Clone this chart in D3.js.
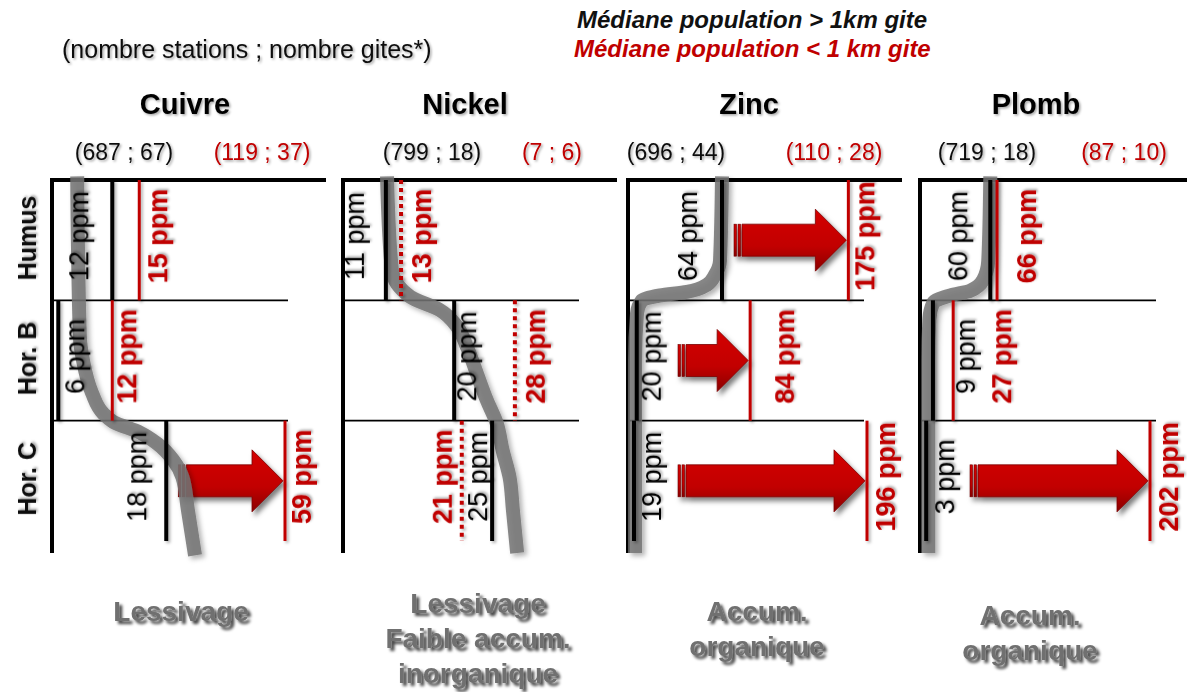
<!DOCTYPE html>
<html><head><meta charset="utf-8">
<script src="https://cdn.jsdelivr.net/npm/d3@7"></script>
<style>
body{margin:0;background:#fff}
svg{display:block;font-family:"Liberation Sans",Arial,Helvetica,sans-serif}
</style>
</head><body>
<svg id="chart" width="1187" height="692"></svg>
<script>
// ---------------- DATA ----------------
const metals = ["Cuivre", "Nickel", "Zinc", "Plomb"];
const horizons = ["Humus", "Hor. B", "Hor. C"];
const countsFar = ["(687 ; 67)", "(799 ; 18)", "(696 ; 44)", "(719 ; 18)"];
const countsNear = ["(119 ; 37)", "(7 ; 6)", "(110 ; 28)", "(87 ; 10)"];
// median ppm per horizon (Humus, Hor. B, Hor. C)
const medianFar  = [[12, 6, 18], [11, 20, 25], [64, 20, 19], [60, 9, 3]];   // population > 1 km gite
const medianNear = [[15, 12, 59], [13, 28, 21], [175, 84, 196], [66, 27, 202]]; // population < 1 km gite
const enrichArrow = [[false, false, true], [false, false, false], [true, true, true], [false, false, true]];
const nearDotted = [false, true, false, false];
const processLabels = [["Lessivage"], ["Lessivage", "Faible accum.", "inorganique"], ["Accum.", "organique"], ["Accum.", "organique"]];
const legendTexts = ["Médiane population > 1km gite", "Médiane population < 1 km gite"];
const countNote = "(nombre stations ; nombre gites*)";
// schematic profile curves: [depth in horizon units, ppm]
const trendCuivre = [[-0.03, 8.1], [1.3, 8.4], [1.5, 8.75], [1.77, 9.75], [1.94, 11.0], [2.01, 12.1], [2.1, 15.1], [2.19, 17.0], [2.33, 18.8], [2.47, 19.8], [2.74, 20.4], [3.12, 21.2]];
const trendNickel = [[-0.03, 11.15], [0.75, 11.8], [0.97, 14.2], [1.08, 18.1], [1.22, 20.4], [1.39, 21.7], [1.61, 23.0], [1.83, 24.3], [2.02, 25.6], [2.25, 26.4], [2.47, 27.3], [2.75, 27.75], [3.1, 28.3]];
const trendZinc = [[-0.03, 64], [0.67, 62.7], [0.79, 59.4], [0.87, 54.5], [0.93, 42.9], [0.96, 29.5], [1.0, 22.0], [1.11, 20.1], [1.5, 19.4], [3.1, 19.4]];
const trendPlomb = [[-0.03, 60], [0.67, 58.2], [0.83, 53.7], [0.92, 42.2], [0.96, 24.4], [1.02, 9.3], [1.16, 5.8], [1.5, 4.9], [3.1, 4.9]];
const trends = [trendCuivre, trendNickel, trendZinc, trendPlomb];

// ---------------- LAYOUT / SCALE CONFIG ----------------
const axisX = [52, 343, 628, 920];
const scaleCfg = [
  {type: "linear", domain: [5.3, 31.2], range: [0, 233]},
  {type: "linear", domain: [5.35, 36], range: [0, 232.6]},
  {type: "sqrt", domain: [19, 196], range: [6, 239]},
  {type: "linear", domain: [-2.5, 202], range: [0, 230]}
];
const farSide  = [["L", "R", "L"], ["L", "R", "L"], ["L", "R", "R"], ["L", "R", "R"]];
const nearSide = [["R", "R", "R"], ["R", "R", "L"], ["R", "R", "R"], ["R", "R", "R"]];
const farNudge  = [[-14, -4, -10], [-12, -8, 5], [-15, -6, -3], [-13, 12, -2]];
const nearNudge = [[-2, -6, -4], [0, 0, 0], [-4, 14, -2], [9, 28, -2]];
const titleX = [185, 465, 749, 1036];
const countFarX = [124, 432, 676, 987];
const countNearX = [262, 552, 834, 1124];
const processX = [181, 478, 757, 1030];
const processY = [621, 613, 621, 625];

const RED = "#c00000";
const svg = d3.select("#chart");
const defs = svg.append("defs");

function shadow(id, dx, dy, sd, op, user) {
  const f = defs.append("filter").attr("id", id);
  if (user) f.attr("filterUnits", "userSpaceOnUse").attr("x", 0).attr("y", 0).attr("width", 1187).attr("height", 692);
  else f.attr("x", "-30%").attr("y", "-30%").attr("width", "160%").attr("height", "160%");
  f.append("feDropShadow").attr("dx", dx).attr("dy", dy).attr("stdDeviation", sd)
    .attr("flood-color", "#000").attr("flood-opacity", op);
}
shadow("txtShadow", 1.5, 1.5, 1.2, 0.35);
shadow("bigShadow", 3, 3, 1.5, 0.75);
shadow("curveShadow", 3, 3, 2.5, 0.35, true);
shadow("arrowShadow", 3, 4, 2.5, 0.5);
shadow("lineShadow", 2, 2, 1.5, 0.3, true);

const grad = defs.append("linearGradient").attr("id", "arrowGrad").attr("x1", 0).attr("y1", 0).attr("x2", 0).attr("y2", 1);
grad.append("stop").attr("offset", "0%").attr("stop-color", "#d40000");
grad.append("stop").attr("offset", "60%").attr("stop-color", "#c20000");
grad.append("stop").attr("offset", "100%").attr("stop-color", "#8a0000");

// depth scale (horizon units -> pixels)
const y = d3.scaleLinear().domain([0, 3]).range([180, 541]);

// ---------------- HEADER TEXT ----------------
svg.append("text").attr("x", 62).attr("y", 58).attr("font-size", 25).attr("fill", "#111")
  .attr("filter", "url(#txtShadow)").text(countNote);
svg.append("text").attr("x", 577).attr("y", 28).attr("font-size", 24).attr("font-weight", "bold")
  .attr("font-style", "italic").attr("fill", "#111").text(legendTexts[0]);
svg.append("text").attr("x", 574).attr("y", 57).attr("font-size", 24).attr("font-weight", "bold")
  .attr("font-style", "italic").attr("fill", RED).text(legendTexts[1]);

// horizon labels
horizons.forEach((h, k) => {
  const cy = (y(k) + y(k + 1)) / 2 - 2;
  svg.append("text").attr("transform", `translate(27,${cy}) rotate(-90)`)
    .attr("text-anchor", "middle").attr("dominant-baseline", "central")
    .attr("font-size", 25).attr("font-weight", "bold").attr("fill", "#111")
    .attr("filter", "url(#txtShadow)").text(h);
});

// ---------------- PANELS ----------------
metals.forEach((metal, i) => {
  const ax = axisX[i];
  const cfg = scaleCfg[i];
  const sx = (cfg.type === "sqrt" ? d3.scalePow().exponent(0.5) : d3.scaleLinear())
    .domain(cfg.domain).range(cfg.range.map(r => r + ax)).clamp(true);
  const g = svg.append("g");

  // title & counts
  g.append("text").attr("x", titleX[i]).attr("y", 114).attr("text-anchor", "middle")
    .attr("font-size", 29).attr("font-weight", "bold").attr("fill", "#000")
    .attr("filter", "url(#txtShadow)").text(metal);
  g.append("text").attr("x", countFarX[i]).attr("y", 160).attr("text-anchor", "middle")
    .attr("font-size", 23).attr("fill", "#111").attr("filter", "url(#txtShadow)").text(countsFar[i]);
  g.append("text").attr("x", countNearX[i]).attr("y", 160).attr("text-anchor", "middle")
    .attr("font-size", 23).attr("fill", RED).attr("filter", "url(#txtShadow)").text(countsNear[i]);

  // frame
  g.append("line").attr("x1", ax - 2).attr("x2", ax + 274).attr("y1", 180).attr("y2", 180)
    .attr("stroke", "#000").attr("stroke-width", 4);
  g.append("line").attr("x1", ax).attr("x2", ax).attr("y1", 178).attr("y2", 553)
    .attr("stroke", "#000").attr("stroke-width", 4);
  [1, 2].forEach(k => {
    g.append("line").attr("x1", ax).attr("x2", ax + 236).attr("y1", y(k)).attr("y2", y(k))
      .attr("stroke", "#000").attr("stroke-width", 1.6);
  });

  // enrichment arrows
  horizons.forEach((h, k) => {
    if (!enrichArrow[i][k]) return;
    const x0 = Math.max(sx(medianFar[i][k]) + 12, ax + 50);
    const x1 = sx(medianNear[i][k]) - 2;
    const cy = (y(k) + y(k + 1)) / 2;
    const hs = 16, hh = 31, hl = 31, b = x0 + 8;
    const ag = g.append("g").attr("filter", "url(#arrowShadow)");
    const pts = [[b, cy - hs], [x1 - hl, cy - hs], [x1 - hl, cy - hh], [x1, cy], [x1 - hl, cy + hh], [x1 - hl, cy + hs], [b, cy + hs]];
    ag.append("path").attr("d", d3.line()(pts) + "Z").attr("fill", "url(#arrowGrad)")
      .attr("stroke", "#7a0000").attr("stroke-width", 0.8);
    [0, 4].forEach(dx => {
      ag.append("rect").attr("x", x0 + dx).attr("y", cy - hs).attr("width", 2.6).attr("height", 2 * hs)
        .attr("fill", "url(#arrowGrad)").attr("stroke", "#6a0000").attr("stroke-width", 0.6);
    });
  });

  // profile curve
  const line = d3.line().x(d => sx(d[1])).y(d => y(d[0])).curve(d3.curveMonotoneY);
  g.append("path").attr("d", line(trends[i])).attr("fill", "none")
    .attr("stroke", "#737373").attr("stroke-width", 14).attr("stroke-opacity", 0.85)
    .attr("filter", "url(#curveShadow)");

  // median lines + labels
  horizons.forEach((h, k) => {
    const y0 = y(k), y1 = y(k + 1);
    const cy = (y0 + y1) / 2 - 4;
    const xf = sx(medianFar[i][k]);
    const xn = sx(medianNear[i][k]);
    g.append("line").attr("x1", xf).attr("x2", xf).attr("y1", y0).attr("y2", y1)
      .attr("stroke", "#000").attr("stroke-width", 4).attr("filter", "url(#lineShadow)");
    g.append("line").attr("x1", xn).attr("x2", xn).attr("y1", y0).attr("y2", y1)
      .attr("stroke", RED).attr("stroke-width", nearDotted[i] ? 4 : 3)
      .attr("stroke-dasharray", nearDotted[i] ? "4,4" : null)
      .attr("filter", "url(#lineShadow)");

    const lab = (x, side, nudge, txt, color, weight) => {
      const bx = (side === "L" ? x - 10 : x + 30) + nudge;
      g.append("text").attr("transform", `translate(${bx},${cy}) rotate(-90)`)
        .attr("text-anchor", "middle").attr("font-size", 27).attr("font-weight", weight)
        .attr("fill", color).attr("filter", "url(#txtShadow)").text(txt);
    };
    lab(xf, farSide[i][k], farNudge[i][k], `${medianFar[i][k]} ppm`, "#000", "normal");
    lab(xn, nearSide[i][k], nearNudge[i][k], `${medianNear[i][k]} ppm`, RED, "bold");
  });

  // process label
  processLabels[i].forEach((t, j) => {
    g.append("text").attr("x", processX[i]).attr("y", processY[i] + j * 35)
      .attr("text-anchor", "middle").attr("font-size", 28).attr("font-weight", "bold")
      .attr("fill", "#707070").attr("filter", "url(#bigShadow)").text(t);
  });
});
</script>
</body></html>
